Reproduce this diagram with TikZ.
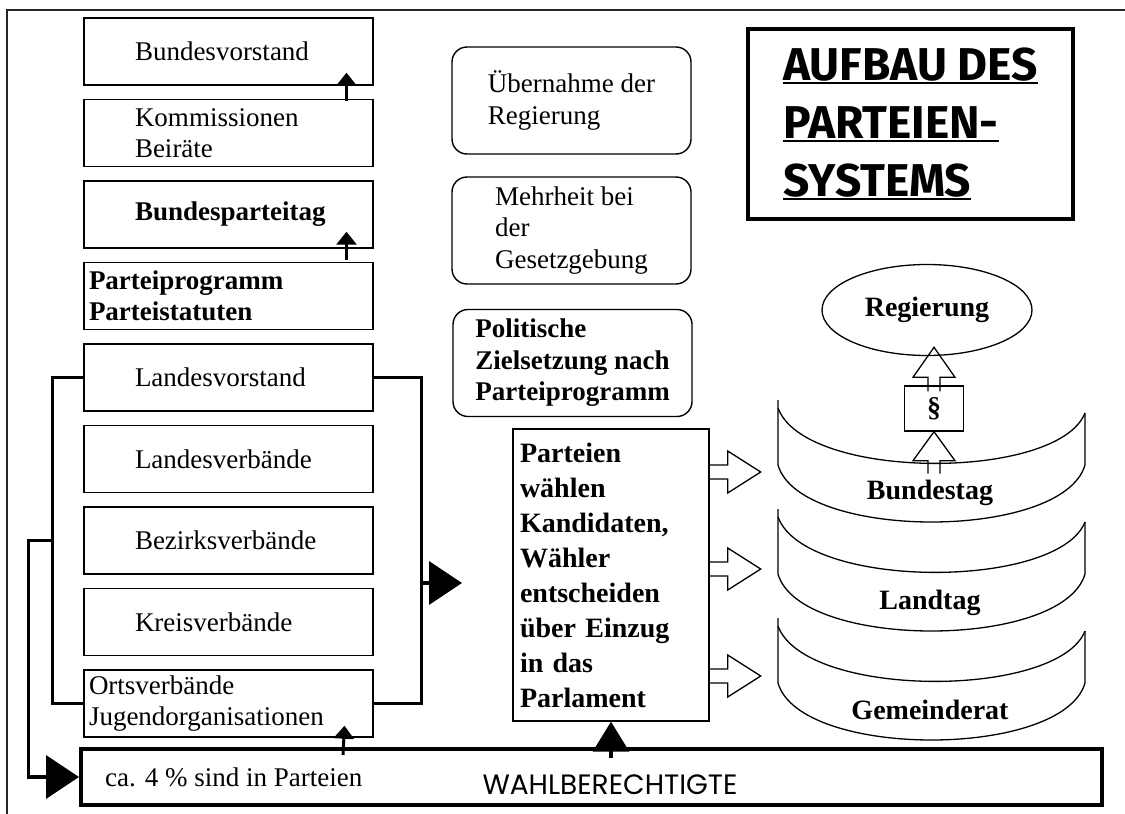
\documentclass[tikz,border=0pt]{standalone}
\usepackage{fontspec}
\setmainfont{Liberation Serif}
\newfontfamily\titlefont{Fira Sans}
\newfontfamily\wahlfont{Poppins}
\usepackage{tikz}
\usetikzlibrary{arrows.meta, positioning, shapes.geometric}
\newcommand{\orgfont}{\fontsize{27}{31.5}\selectfont}
\newcommand{\partyfont}{\fontsize{28}{35}\selectfont\bfseries}
\tikzstyle{orgbox} = [rectangle, draw=black, line width=1.4pt, minimum width=289pt, minimum height=67pt, text width=187pt, inner xsep=51pt, align=left, font=\orgfont]
\tikzstyle{flushbox} = [orgbox, text width=279pt, inner xsep=5pt]
\tikzstyle{goalbox} = [rectangle, rounded corners=15pt, draw=black, line width=1.4pt, minimum width=239pt, minimum height=107pt, align=left, font=\orgfont]
\tikzstyle{titleline} = [inner sep=0pt, font=\titlefont\bfseries\fontsize{46}{46}\selectfont]
\tikzstyle{band} = [line width=1.3pt]
\tikzstyle{bracket} = [line width=3.5pt]
\tikzstyle{fatarrow} = [line width=3.5pt, -{Triangle[width=43pt,length=33pt]}]
\tikzstyle{smallarrow} = [line width=3pt, -{Triangle[width=20pt,length=13pt]}]
\tikzstyle{hollow} = [line width=1.3pt, line join=miter]

\begin{document}
\begin{tikzpicture}[x=1pt, y=-1pt, node distance=81.5pt]
\useasboundingbox (0,0) rectangle (1125,814);
\draw[line width=1.5pt, black!85] (7,814) -- (7,10) -- (1125,10);

% Bundesebene
\node (bvorstand) [orgbox] at (228.5,51.5) {Bundesvorstand};
\node (kommission) [orgbox, below of=bvorstand] {Kommissionen\\Beiräte};
\node (bparteitag) [orgbox, below of=kommission, align=center, font=\orgfont\bfseries] {Bundesparteitag};
\node (programm) [flushbox, below of=bparteitag, font=\orgfont\bfseries] {Parteiprogramm\\Parteistatuten};

% Landesebene bis Ortsebene
\node (lvorstand) [orgbox, below of=programm] {Landesvorstand};
\node (lverband) [orgbox, below of=lvorstand] {Landesverbände};
\node (bzverband) [orgbox, below of=lverband] {Bezirksverbände};
\node (kverband) [orgbox, below of=bzverband] {Kreisverbände};
\node (overband) [flushbox, below of=kverband] {Ortsverbände\\Jugendorganisationen};

% Ziele
\node (takeover) [goalbox] at (571.5,100.5) {Übernahme der\\Regierung};
\node (majority) [goalbox] at (571.5,230.5) {Mehrheit bei\\der\\Gesetzgebung};
\node (goals) [goalbox, font=\orgfont\bfseries] at (572.5,363) {Politische\\Zielsetzung nach\\Parteiprogramm};

\node (parteien) [draw, line width=1.4pt, minimum width=196pt, minimum height=292pt, text width=182pt, inner xsep=7pt, align=left, font=\partyfont] at (611,575) {Parteien\\wählen\\Kandidaten,\\Wähler\\entscheiden\\über Einzug\\in das\\Parlament};

% Titel
\node (titlebox) [draw, line width=4pt, minimum width=325pt, minimum height=190pt] at (910.5,124) {};
\node (title1) [titleline, anchor=base west] at (783,80) {AUFBAU DES};
\node (title2) [titleline, anchor=base west] at (783,138) {PARTEIEN-};
\node (title3) [titleline, anchor=base west] at (783,196) {SYSTEMS};
\draw[line width=2pt] ([yshift=-3pt]title1.base west) -- ([yshift=-3pt]title1.base east);
\draw[line width=2pt] ([yshift=-3pt]title2.base west) -- ([yshift=-3pt]title2.base east);
\draw[line width=2pt] ([yshift=-3pt]title3.base west) -- ([yshift=-3pt]title3.base east);

% Parlamente
\node (regierung) [ellipse, draw, line width=1.3pt, minimum width=210pt, minimum height=91pt, font=\partyfont] at (927,310) {Regierung};
\node (sect) [draw, line width=1.4pt, minimum width=59pt, minimum height=45pt, font=\partyfont] at (934,408.5) {§};

\draw[band] (778,400) -- (778,465) .. controls (800,541) and (1063,541) .. (1085,465) -- (1085,413);
\draw[band] (778,408) .. controls (805,481) and (1058,481) .. (1085,413);
\node (bundestag) [font=\partyfont] at (930,493) {Bundestag};

\draw[band] (778,509) -- (778,574) .. controls (800,650) and (1063,650) .. (1085,574) -- (1085,522);
\draw[band] (778,517) .. controls (805,590) and (1058,590) .. (1085,522);
\node (landtag) [font=\partyfont] at (930,603) {Landtag};

\draw[band] (778,618) -- (778,683) .. controls (800,759) and (1063,759) .. (1085,683) -- (1085,631);
\draw[band] (778,626) .. controls (805,699) and (1058,699) .. (1085,631);
\node (gemeinderat) [font=\partyfont] at (930,710) {Gemeinderat};

\draw[hollow] ([yshift=-6pt]sect.north) ++(-6,0) -- ++(0,-14) -- ++(-15,0) -- ++(21,-30) -- ++(21,30) -- ++(-15,0) -- ++(0,14);
\draw[hollow] ([yshift=-42pt]sect.south) ++(-6,0) -- ++(0,-13) -- ++(-15,0) -- ++(21,-29) -- ++(21,29) -- ++(-15,0) -- ++(0,13);

\draw[hollow] ([yshift=110pt]parteien.east) -- ++(18,0) -- ++(0,-14) -- ++(33,21) -- ++(-33,21) -- ++(0,-14) -- ++(-18,0);
\draw[hollow] ([yshift=13pt]parteien.east) -- ++(18,0) -- ++(0,-14) -- ++(33,21) -- ++(-33,21) -- ++(0,-14) -- ++(-18,0);
\draw[hollow] ([yshift=-94pt]parteien.east) -- ++(18,0) -- ++(0,-14) -- ++(33,21) -- ++(-33,21) -- ++(0,-14) -- ++(-18,0);

% Wahlberechtigte
\node (wahl) [draw, line width=4pt, minimum width=1021pt, minimum height=56pt] at (591.5,777) {};
\node (members) [anchor=west, inner sep=0pt, font=\orgfont] at ([xshift=26pt]wahl.west) {ca. 4 \% sind in Parteien};
\node (wahllabel) [font=\wahlfont\fontsize{28}{28}\selectfont] at (610,785) {WAHLBERECHTIGTE};

% Verbindungen
\draw[smallarrow] ([xshift=118pt,yshift=-2pt]kommission.north) -- ([xshift=118pt,yshift=13pt]bvorstand.south);
\draw[smallarrow] ([xshift=118pt,yshift=2pt]programm.north) -- ([xshift=118pt,yshift=17pt]bparteitag.south);
\coordinate (oarrow) at (343,755);
\draw[smallarrow] (oarrow) -- ([xshift=116pt,yshift=12pt]overband.south);

\draw[bracket] (lvorstand.west) -- ++(-31,0) |- (overband.west);
\draw[bracket] (lvorstand.east) -- ++(48,0) |- (overband.east);
\coordinate (lbr) at ([xshift=-31pt]bzverband.west);
\draw[fatarrow] (lbr) -- ++(-24,0) |- (wahl.west);
\coordinate (rbr) at (421,583);
\coordinate (rbtip) at (462,583);
\draw[fatarrow] (rbr) -- (rbtip);
\draw[fatarrow, -{Triangle[width=36pt,length=30pt]}] ([yshift=-36pt]parteien.south) -- (parteien.south);

\end{tikzpicture}
\end{document}
